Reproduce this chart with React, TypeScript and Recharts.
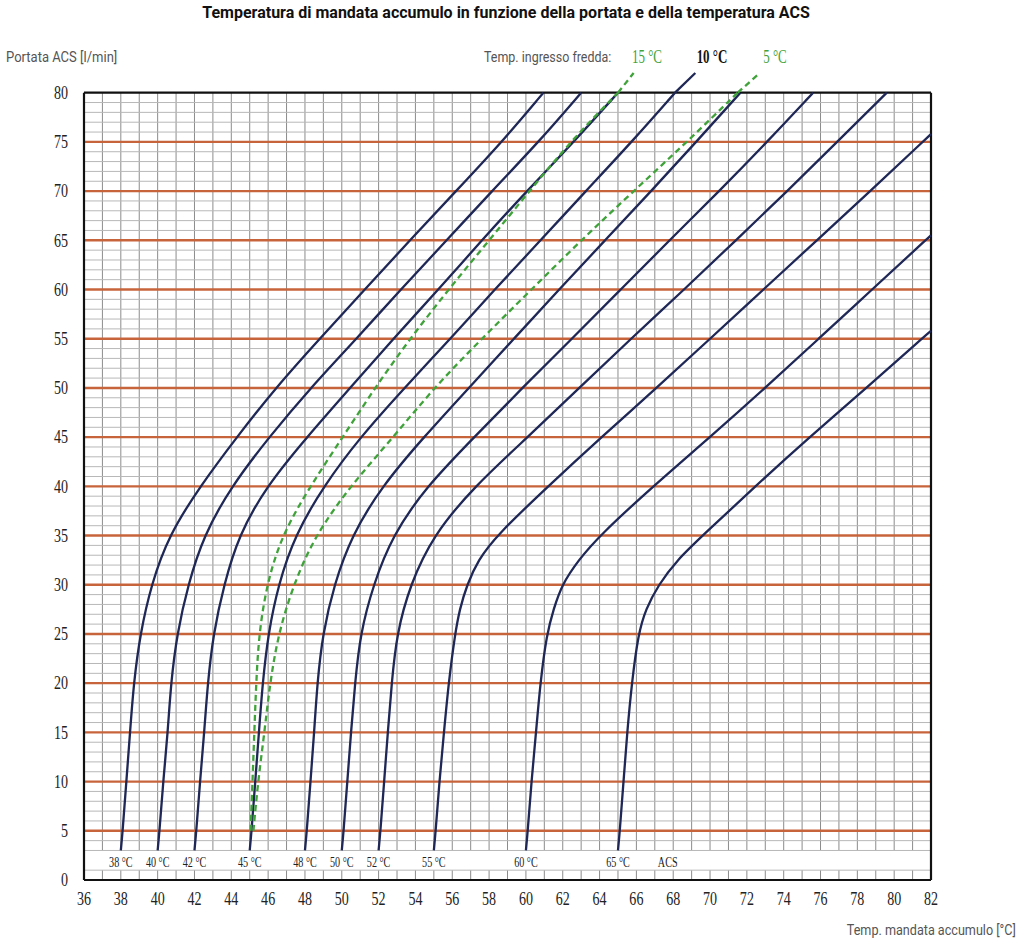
import React from 'react';
import { ComposedChart, Line, XAxis, YAxis, ReferenceLine, Scatter } from 'recharts';

// ---- axis ticks ----
const X_TICKS = [36, 38, 40, 42, 44, 46, 48, 50, 52, 54, 56, 58, 60, 62, 64, 66, 68, 70, 72, 74, 76, 78, 80, 82];
const Y_TICKS = [0, 5, 10, 15, 20, 25, 30, 35, 40, 45, 50, 55, 60, 65, 70, 75, 80];
const ORANGE_LEVELS = [5, 10, 15, 20, 25, 30, 35, 40, 45, 50, 55, 60, 65, 70, 75];

// ---- curves: [temperatura mandata accumulo °C, portata ACS l/min] ----
const ACS_38 = [[38.0, 3], [38.1, 5], [38.3, 10], [38.5, 15], [38.7, 20], [39.05, 25], [39.65, 30], [40.6, 35], [42.3, 40], [44.3, 45], [46.4, 50], [48.8, 55], [51.25, 60], [53.7, 65], [56.2, 70], [58.7, 75], [60.95, 80]];
const ACS_40 = [[40.0, 3], [40.1, 5], [40.3, 10], [40.55, 15], [40.72, 20], [41.05, 25], [41.65, 30], [42.5, 35], [44.0, 40], [46.05, 45], [48.3, 50], [50.8, 55], [53.2, 60], [55.7, 65], [58.15, 70], [60.7, 75], [63.0, 80]];
const ACS_42 = [[42.0, 3], [42.1, 5], [42.3, 10], [42.53, 15], [42.72, 20], [43.02, 25], [43.6, 30], [44.4, 35], [45.9, 40], [48.1, 45], [50.45, 50], [52.8, 55], [55.25, 60], [57.6, 65], [60.05, 70], [62.6, 75], [65.0, 80]];
const ACS_45 = [[45.0, 3], [45.1, 5], [45.3, 10], [45.5, 15], [45.7, 20], [46.0, 25], [46.55, 30], [47.45, 35], [49.0, 40], [51.0, 45], [53.4, 50], [55.9, 55], [58.3, 60], [60.8, 65], [63.25, 70], [65.75, 75], [68.1, 80]];
const ACS_48 = [[48.0, 3], [48.1, 5], [48.3, 10], [48.5, 15], [48.67, 20], [48.96, 25], [49.58, 30], [50.54, 35], [52.17, 40], [54.45, 45], [56.9, 50], [59.35, 55], [61.8, 60], [64.3, 65], [66.8, 70], [69.25, 75], [71.65, 80]];
const ACS_50 = [[50.0, 3], [50.1, 5], [50.3, 10], [50.5, 15], [50.72, 20], [51.0, 25], [51.71, 30], [52.75, 35], [54.6, 40], [57.2, 45], [59.8, 50], [62.5, 55], [65.15, 60], [67.8, 65], [70.5, 70], [73.1, 75], [75.6, 80]];
const ACS_52 = [[52.0, 3], [52.1, 5], [52.3, 10], [52.5, 15], [52.71, 20], [52.98, 25], [53.71, 30], [54.95, 35], [57.2, 40], [60.1, 45], [62.9, 50], [65.7, 55], [68.6, 60], [71.4, 65], [74.2, 70], [76.9, 75], [79.6, 80]];
const ACS_55 = [[55.0, 3], [55.1, 5], [55.3, 10], [55.55, 15], [55.8, 20], [56.15, 25], [56.4, 27.5], [56.8, 30], [57.4, 32.5], [58.4, 35], [61.2, 40], [64.1, 45], [67.1, 50], [70.0, 55], [72.9, 60], [75.8, 65], [78.7, 70], [81.55, 75], [82, 75.8]];
const ACS_60 = [[60.0, 3], [60.1, 5], [60.3, 10], [60.55, 15], [60.78, 20], [61.13, 25], [61.5, 27.5], [61.95, 30], [62.85, 32.5], [64.0, 35], [66.9, 40], [70.0, 45], [73.0, 50], [75.9, 55], [78.8, 60], [81.7, 65], [82, 65.5]];
const ACS_65 = [[65.0, 3], [65.1, 5], [65.3, 10], [65.5, 15], [65.75, 20], [66.1, 25], [66.5, 27.5], [67.2, 30], [68.2, 32.5], [69.6, 35], [72.45, 40], [75.4, 45], [78.5, 50], [81.5, 55], [82, 55.8]];
const FREDDA_15 = [[45.05, 5], [45.15, 10], [45.25, 15], [45.35, 20], [45.5, 25], [45.92, 30], [46.73, 35], [48.28, 40], [50.05, 45], [51.8, 50], [53.7, 55], [55.8, 60], [58.0, 65], [60.2, 70], [62.4, 75], [65.0, 80]];
const FREDDA_5 = [[45.2, 5], [45.45, 10], [45.8, 15], [46.1, 20], [46.55, 25], [47.37, 30], [48.55, 35], [50.45, 40], [52.8, 45], [55.0, 50], [57.6, 55], [60.3, 60], [63.0, 65], [65.85, 70], [68.75, 75], [71.5, 80]];

// ---- leader lines above the plot to the cold-water legend ----
const LEAD_15 = [[65.0, 80], [65.85, 82]];
const LEAD_10 = [[68.1, 80], [69.2, 82]];
const LEAD_5 = [[71.5, 80], [72.7, 82]];

// ---- curve labels along the bottom ----
const LABEL_X = [38, 40, 42, 45, 48, 50, 52, 55, 60, 65, 67.7];
const LABEL_TEXT = ['38 °C', '40 °C', '42 °C', '45 °C', '48 °C', '50 °C', '52 °C', '55 °C', '60 °C', '65 °C', 'ACS'];
const LABEL_Y = 1.75;

const NAVY = '#1e2756';
const GREEN = '#3fa33a';
const ORANGE = '#c8643c';

const toData = (pts: number[][]) => pts.map(([x, y]) => ({ x, y }));

const SOLID = [ACS_38, ACS_40, ACS_42, ACS_45, ACS_48, ACS_50, ACS_52, ACS_55, ACS_60, ACS_65];
const DASHED = [FREDDA_15, FREDDA_5];

const labelData = LABEL_X.map((x, i) => ({ x, y: LABEL_Y, label: LABEL_TEXT[i] }));

const gridX: number[] = [];
for (let v = 37; v <= 81; v++) gridX.push(v);
const gridY: number[] = [];
for (let v = 1; v <= 79; v++) if (v !== 2 && v % 5 !== 0) gridY.push(v);

const SERIF = "'Liberation Serif', 'DejaVu Serif', serif";
const SANS = "Roboto, 'Noto Sans', sans-serif";

const XTick = (props: any) => {
  const { x, y, payload } = props;
  return (
    <text transform={`translate(${x},${y}) scale(0.74,1)`} textAnchor="middle" dominantBaseline="central"
      fontFamily={SERIF} fontSize={19} fill="#222">{payload.value}</text>
  );
};
const YTick = (props: any) => {
  const { x, y, payload } = props;
  return (
    <text transform={`translate(${x},${y}) scale(0.74,1)`} textAnchor="end" dominantBaseline="central"
      fontFamily={SERIF} fontSize={19} fill="#222">{payload.value}</text>
  );
};
const LabelShape = (props: any) => {
  const { cx, cy, payload } = props;
  return (
    <text transform={`translate(${cx},${cy}) scale(0.7,1)`} textAnchor="middle" dominantBaseline="central"
      fontFamily={SERIF} fontSize={14.5} fill="#222">{payload.label}</text>
  );
};

const W = 1024;
const Txt = ({ x, y, anchor = 'middle', scale = 0.86, style, children }: any) => {
  const base: React.CSSProperties = { position: 'absolute', top: y, whiteSpace: 'nowrap', lineHeight: 1 };
  if (anchor === 'middle') {
    return <div style={{ ...base, left: x, transform: `translate(-50%,-50%) scaleX(${scale})`, transformOrigin: 'center', ...style }}>{children}</div>;
  }
  if (anchor === 'end') {
    return <div style={{ ...base, right: W - x, transform: `translateY(-50%) scaleX(${scale})`, transformOrigin: 'right center', ...style }}>{children}</div>;
  }
  return <div style={{ ...base, left: x, transform: `translateY(-50%) scaleX(${scale})`, transformOrigin: 'left center', ...style }}>{children}</div>;
};

const lineProps = { dataKey: 'y', dot: false, activeDot: false, isAnimationActive: false, strokeWidth: 2.3 } as const;

export default function App() {
  return (
    <div style={{ position: 'relative', width: W, height: 945, overflow: 'hidden', background: '#fff' }}>
      <style>{'html,body{margin:0;padding:0;background:#fff}'}</style>
      <ComposedChart width={W} height={945} margin={{ top: 73, right: 93, bottom: 35, left: 44 }}>
        <XAxis type="number" dataKey="x" domain={[36, 82]} ticks={X_TICKS} interval={0}
          axisLine={false} tickLine={false} tickSize={0} tickMargin={19} height={30} tick={XTick} />
        <YAxis type="number" dataKey="y" domain={[0, 82]} ticks={Y_TICKS} interval={0}
          axisLine={false} tickLine={false} tickSize={0} tickMargin={16} width={40} tick={YTick} />

        {gridX.map((v) => (
          <ReferenceLine key={`vx0-${v}`} segment={[{ x: v, y: 0 }, { x: v, y: 1 }]} stroke="#8c8c8c" strokeWidth={1} />
        ))}
        {gridX.map((v) => (
          <ReferenceLine key={`vx1-${v}`} segment={[{ x: v, y: 3 }, { x: v, y: 80 }]} stroke="#8c8c8c" strokeWidth={1} />
        ))}
        {gridY.map((v) => (
          <ReferenceLine key={`hy-${v}`} segment={[{ x: 36, y: v }, { x: 82, y: v }]} stroke="#b8b8b8" strokeWidth={1} />
        ))}
        {ORANGE_LEVELS.map((v) => (
          <ReferenceLine key={`or-${v}`} segment={[{ x: 36, y: v }, { x: 82, y: v }]} stroke={ORANGE} strokeWidth={2.4} />
        ))}
        <ReferenceLine segment={[{ x: 36, y: 0 }, { x: 82, y: 0 }]} stroke="#111" strokeWidth={2.2} />
        <ReferenceLine segment={[{ x: 36, y: 80 }, { x: 82, y: 80 }]} stroke="#111" strokeWidth={2.2} />
        <ReferenceLine segment={[{ x: 36, y: 0 }, { x: 36, y: 80 }]} stroke="#111" strokeWidth={2.2} />
        <ReferenceLine segment={[{ x: 82, y: 0 }, { x: 82, y: 80 }]} stroke="#111" strokeWidth={2.2} />

        {SOLID.map((pts, i) => (
          <Line key={`s${i}`} {...lineProps} data={toData(pts)} type="basis" stroke={NAVY} />
        ))}
        {DASHED.map((pts, i) => (
          <Line key={`d${i}`} {...lineProps} data={toData(pts)} type="basis" stroke={GREEN} strokeDasharray="6 4" />
        ))}
        <Line {...lineProps} data={toData(LEAD_10)} type="linear" stroke={NAVY} />
        <Line {...lineProps} data={toData(LEAD_15)} type="linear" stroke={GREEN} strokeDasharray="6 4" />
        <Line {...lineProps} data={toData(LEAD_5)} type="linear" stroke={GREEN} strokeDasharray="6 4" />
        <Scatter data={labelData} dataKey="y" shape={LabelShape} isAnimationActive={false} />
      </ComposedChart>

      <Txt x={506} y={13} scale={1.0} style={{ fontFamily: SANS, fontWeight: 700, fontSize: 16, color: '#111' }}>
        Temperatura di mandata accumulo in funzione della portata e della temperatura ACS
      </Txt>
      <Txt x={6} y={57} anchor="start" scale={0.93} style={{ fontFamily: SANS, fontSize: 14, color: '#555' }}>Portata ACS [l/min]</Txt>
      <Txt x={484} y={57} anchor="start" scale={0.89} style={{ fontFamily: SANS, fontSize: 14, color: '#555' }}>Temp. ingresso fredda:</Txt>
      <Txt x={647} y={57} scale={0.72} style={{ fontFamily: SERIF, fontSize: 18, color: GREEN }}>15 °C</Txt>
      <Txt x={712} y={57} scale={0.72} style={{ fontFamily: SERIF, fontSize: 18, fontWeight: 700, color: '#111' }}>10 °C</Txt>
      <Txt x={775} y={57} scale={0.72} style={{ fontFamily: SERIF, fontSize: 18, color: GREEN }}>5 °C</Txt>
      <Txt x={1016} y={930} anchor="end" scale={0.9} style={{ fontFamily: SANS, fontSize: 14, color: '#555' }}>Temp. mandata accumulo [°C]</Txt>
    </div>
  );
}
